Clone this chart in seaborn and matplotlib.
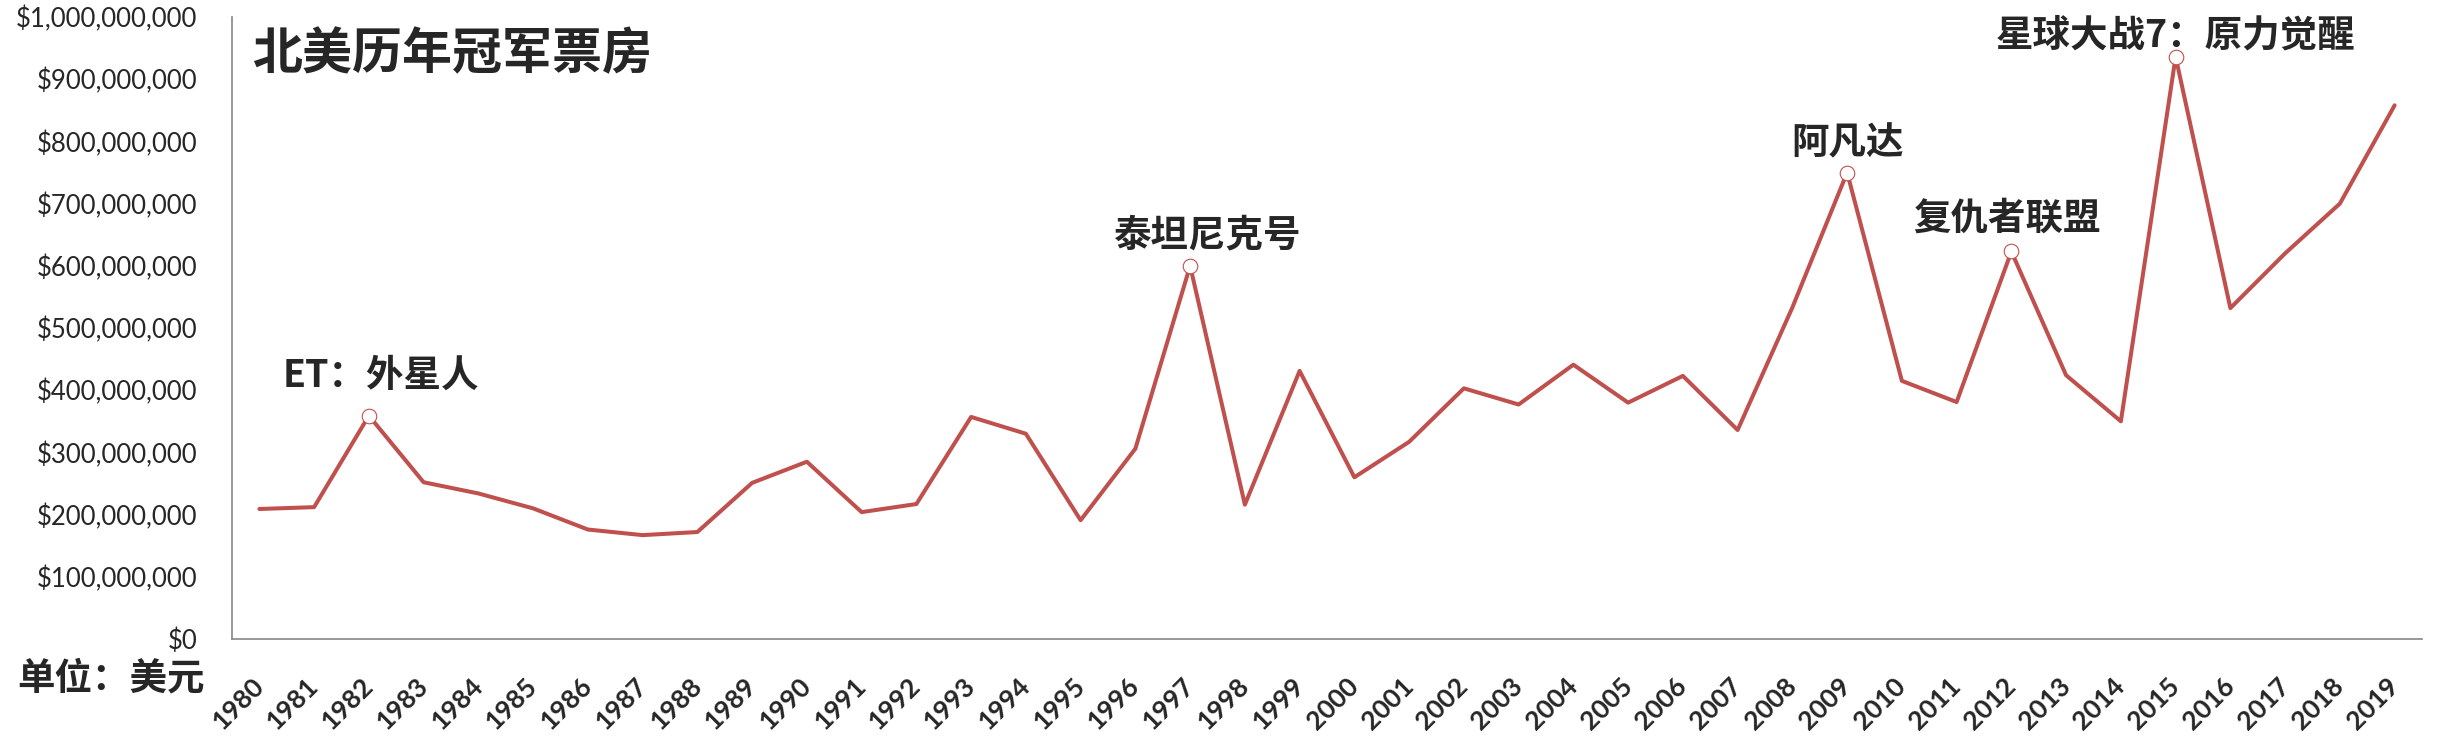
import numpy as np
import pandas as pd
import matplotlib
matplotlib.use('Agg')
import matplotlib.pyplot as plt
import matplotlib.transforms as mtransforms
import seaborn as sns

years = list(range(1980, 2020))
gross = [209, 212, 359, 252, 234, 210, 176, 167, 172, 251,
         285, 204, 217, 357, 330, 191, 306, 600, 216, 431,
         260, 317, 403, 377, 441, 380, 423, 336, 533, 750,
         415, 381, 623, 424, 350, 936, 532, 620, 700, 858]
gross = [g * 1e6 for g in gross]

# 标注的冠军影片
peak_years = [1982, 1997, 2009, 2012, 2015]
peak_names = ['ET：外星人', '泰坦尼克号', '阿凡达', '复仇者联盟', '星球大战7：原力觉醒']

data = pd.DataFrame({'year': years, 'gross': gross})
data['idx'] = np.arange(len(data))
peaks = data[data['year'].isin(peak_years)]

sns.set_style('white')
cjk = ['Noto Sans CJK SC', 'DejaVu Sans']
plt.rcParams['font.family'] = ['Lato', 'DejaVu Sans']

red = '#C0504D'
grey = '#868686'
fig = plt.figure(figsize=(24.45, 7.37), dpi=100)
ax = fig.add_axes([232 / 2445, 1 - 639 / 737, (2422 - 232) / 2445, (639 - 17) / 737])

sns.lineplot(data=data, x='idx', y='gross', color=red, linewidth=2.9, ax=ax)
sns.scatterplot(data=peaks, x='idx', y='gross', color='white', edgecolor=red,
                linewidth=0.8, s=110, zorder=5, ax=ax)

# label centre offsets (points)
offsets = [(9, 29), (12, 22), (0, 21), (-3, 24), (0, 16)]
for (_, row), name, off in zip(peaks.iterrows(), peak_names, offsets):
    ax.annotate(name, (row['idx'], row['gross']), xytext=off, textcoords='offset points',
                ha='center', va='center', fontsize=27, fontweight='bold', family=cjk)

ax.set_xlim(-0.5, len(years) - 0.5)
ax.set_ylim(0, 1e9)
yt = np.arange(0, 1.01e9, 1e8)
ax.set_yticks(yt)
ax.set_yticklabels(['${:,.0f}'.format(v) for v in yt], fontsize=18.5)
ax.set_xticks(np.arange(-0.5, len(years), 1))
ax.set_xticklabels([])
ax.set_xticks(np.arange(len(years)), minor=True)
ax.set_xticklabels([str(y) for y in years], minor=True, rotation=45, ha='right',
                   va='center', rotation_mode='anchor', fontsize=19, fontweight='bold')
shift = mtransforms.ScaledTranslation(10 / 100, 0, fig.dpi_scale_trans)
for lab in ax.get_xticklabels(minor=True):
    lab.set_transform(lab.get_transform() + shift)
ax.tick_params(axis='x', which='major', length=7, width=1.2, color=grey, direction='out')
ax.tick_params(axis='x', which='minor', length=0, pad=31)
ax.tick_params(axis='y', length=7, width=1.2, color=grey, direction='out', pad=18)
ax.set_xlabel('')
ax.set_ylabel('')
for s in ['top', 'right']:
    ax.spines[s].set_visible(False)
for s in ['left', 'bottom']:
    ax.spines[s].set_color(grey)
    ax.spines[s].set_linewidth(1.2)

fig.text(252 / 2445, 1 - 55 / 737, '北美历年冠军票房', fontsize=36,
         fontweight='bold', family=cjk, va='center', ha='left')
fig.text(17 / 2445, 1 - 678 / 737, '单位：美元', fontsize=27, fontweight='bold',
         family=cjk, va='center', ha='left')

fig.savefig('out.png', dpi=100)
